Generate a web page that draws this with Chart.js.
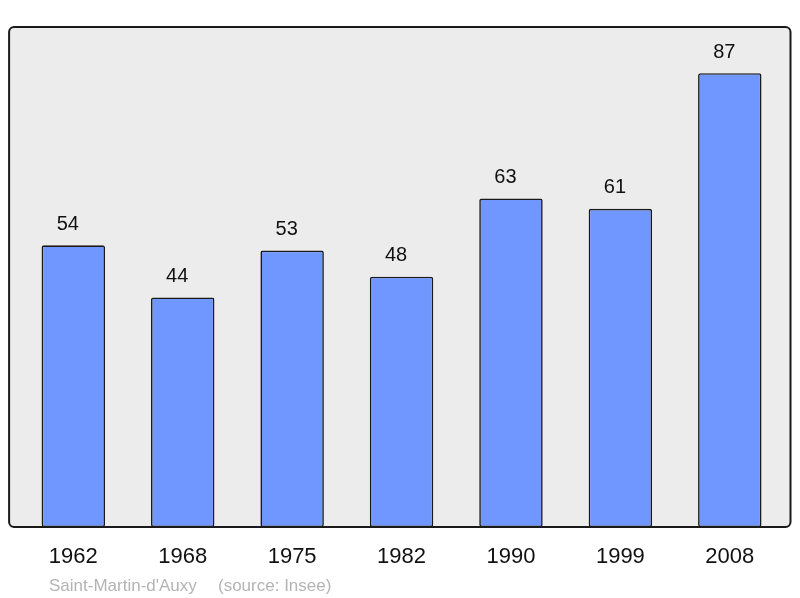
<!DOCTYPE html>
<html>
<head>
<meta charset="utf-8">
<script src="https://cdn.jsdelivr.net/npm/chart.js@4/dist/chart.umd.min.js"></script>
<style>
  html, body { margin: 0; padding: 0; background: #fff; }
  #wrap { width: 800px; height: 598px; position: relative; }
</style>
</head>
<body>
<div id="wrap"><canvas id="popChart"></canvas></div>
<script>
// Population data (Insee)
const years = ['1962', '1968', '1975', '1982', '1990', '1999', '2008'];
const population = [54, 44, 53, 48, 63, 61, 87];
const placeName = "Saint-Martin-d'Auxy";
const sourceText = '(source: Insee)';

const fontFamily = '"Liberation Sans", Arial, sans-serif';

document.addEventListener('DOMContentLoaded', function() {

    // grey rounded panel behind the bars, frame line on top
    const framePlugin = {
        id: 'frame',
        beforeDatasetsDraw: function(chart) {
            const a = chart.chartArea;
            const ctx = chart.ctx;
            ctx.save();
            ctx.beginPath();
            ctx.roundRect(a.left - 9.5, a.top, (a.right + 6) - (a.left - 9.5), a.bottom - a.top, 5);
            ctx.fillStyle = '#ececec';
            ctx.fill();
            ctx.restore();
        },
        afterDatasetsDraw: function(chart) {
            const a = chart.chartArea;
            const ctx = chart.ctx;
            ctx.save();
            ctx.beginPath();
            ctx.roundRect(a.left - 9.5, a.top, (a.right + 6) - (a.left - 9.5), a.bottom - a.top, 5);
            ctx.lineWidth = 2;
            ctx.strokeStyle = '#1a1a1a';
            ctx.stroke();

            // value labels above each bar (sit a little left of centre in the original)
            const meta = chart.getDatasetMeta(0);
            ctx.font = '20px ' + fontFamily;
            ctx.fillStyle = '#111';
            ctx.textAlign = 'center';
            ctx.textBaseline = 'alphabetic';
            meta.data.forEach(function(bar, i) {
                ctx.fillText(String(population[i]), bar.x - 5.5, bar.y - 15.5);
            });
            ctx.restore();
        },
        afterDraw: function(chart) {
            const ctx = chart.ctx;
            ctx.save();
            ctx.font = '17px ' + fontFamily;
            ctx.fillStyle = '#b4b4b4';
            ctx.textAlign = 'left';
            ctx.textBaseline = 'alphabetic';
            ctx.fillText(placeName, 49, 590.5);
            ctx.fillText(sourceText, 218, 590.5);
            ctx.restore();
        }
    };

    new Chart(document.getElementById('popChart'), {
        type: 'bar',
        data: {
            labels: years,
            datasets: [{
                data: population,
                backgroundColor: '#7096ff',
                borderColor: '#1a1a1a',
                borderWidth: 1.6,
                borderRadius: 2,
                borderSkipped: false,
                barPercentage: 0.58,
                categoryPercentage: 1.0
            }]
        },
        options: {
            responsive: true,
            maintainAspectRatio: false,
            animation: false,
            layout: {
                padding: { left: 18.6, right: 15.5, top: 27, bottom: 10.6 }
            },
            plugins: {
                legend: { display: false },
                tooltip: { enabled: false }
            },
            scales: {
                x: {
                    grid: { display: false, drawTicks: false },
                    border: { display: false },
                    ticks: {
                        color: '#111',
                        padding: 17,
                        font: { family: fontFamily, size: 22 }
                    }
                },
                y: {
                    display: false,
                    min: 0,
                    max: 95.87
                }
            }
        },
        plugins: [framePlugin]
    });
});
</script>
</body>
</html>
